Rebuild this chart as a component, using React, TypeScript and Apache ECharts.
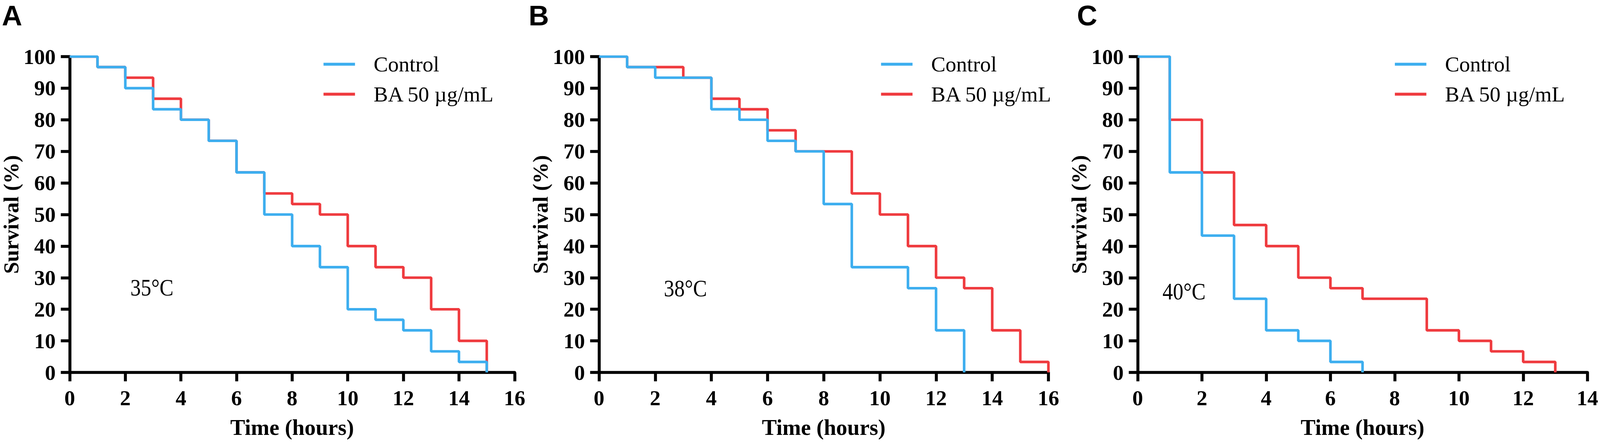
import React, { useEffect, useRef } from "react";
import * as echarts from "echarts";

// ---------- data ----------
const panelLabels = ["A", "B", "C"];
const temperatureLabels = ["35°C", "38°C", "40°C"];
const seriesNames = ["Control", "BA 50 µg/mL"];

const xMaxA = 16;
const xMaxB = 16;
const xMaxC = 14;
const xTickStep = 2;
const yTicks = [0, 10, 20, 30, 40, 50, 60, 70, 80, 90, 100];

const timeControlA = [0, 1, 2, 3, 4, 5, 6, 7, 8, 9, 10, 11, 12, 13, 14, 15];
const controlA = [100, 96.67, 90, 83.33, 80, 73.33, 63.33, 50, 40, 33.33, 20, 16.67, 13.33, 6.67, 3.33, 0];
const timeBaA = [0, 1, 2, 3, 4, 5, 6, 7, 8, 9, 10, 11, 12, 13, 14, 15];
const baA = [100, 96.67, 93.33, 86.67, 80, 73.33, 63.33, 56.67, 53.33, 50, 40, 33.33, 30, 20, 10, 0];

const timeControlB = [0, 1, 2, 3, 4, 5, 6, 7, 8, 9, 10, 11, 12, 13];
const controlB = [100, 96.67, 93.33, 93.33, 83.33, 80, 73.33, 70, 53.33, 33.33, 33.33, 26.67, 13.33, 0];
const timeBaB = [0, 1, 2, 3, 4, 5, 6, 7, 8, 9, 10, 11, 12, 13, 14, 15, 16];
const baB = [100, 96.67, 96.67, 93.33, 86.67, 83.33, 76.67, 70, 70, 56.67, 50, 40, 30, 26.67, 13.33, 3.33, 0];

const timeControlC = [0, 1, 2, 3, 4, 5, 6, 7];
const controlC = [100, 63.33, 43.33, 23.33, 13.33, 10, 3.33, 0];
const timeBaC = [0, 1, 2, 3, 4, 5, 6, 7, 8, 9, 10, 11, 12, 13];
const baC = [100, 80, 63.33, 46.67, 40, 30, 26.67, 23.33, 23.33, 13.33, 10, 6.67, 3.33, 0];

// ---------- layout / style (in reference pixels, 4319 x 1145) ----------
const REF_W = 4319;
const REF_H = 1145;
const BLUE = "#3DAEEF";
const RED = "#EF3B3F";
const SERIF = "'Liberation Serif', 'Times New Roman', serif";
const SANS = "'Liberation Sans', Arial, sans-serif";

const gridBoxes = [
  { left: 176, top: 145, width: 1213, height: 809 },
  { left: 1617, top: 145, width: 1213, height: 809 },
  { left: 3071, top: 145, width: 1214, height: 809 },
];
const legendPos = [
  { left: 868, top: 131 },
  { left: 2373, top: 131 },
  { left: 3760, top: 131 },
];
const panelLabelPos = [
  { x: 5, y: 4 },
  { x: 1427, y: 4 },
  { x: 2907, y: 4 },
];
const tempLabelPos = [
  { x: 352, y: 736 },
  { x: 1792, y: 738 },
  { x: 3138, y: 746 },
];

const zip = (t: number[], v: number[]) => t.map((x, i) => [x, v[i]]);

function buildOption(sx: number, sy: number) {
  const s = Math.min(sx, sy);
  const X = (v: number) => v * sx;
  const Y = (v: number) => v * sy;
  const S = (v: number) => v * s;

  const xMaxes = [xMaxA, xMaxB, xMaxC];
  const panels = [
    { control: zip(timeControlA, controlA), ba: zip(timeBaA, baA) },
    { control: zip(timeControlB, controlB), ba: zip(timeBaB, baB) },
    { control: zip(timeControlC, controlC), ba: zip(timeBaC, baC) },
  ];

  const grid = gridBoxes.map((g) => ({
    left: X(g.left),
    top: Y(g.top),
    width: X(g.width),
    height: Y(g.height),
  }));

  const axisLine = { show: true, onZero: false, lineStyle: { color: "#000", width: S(8) } };
  const axisTick = { show: true, length: S(24), lineStyle: { color: "#000", width: S(8) } };

  const xAxis = xMaxes.map((mx, i) => ({
    type: "value",
    gridIndex: i,
    min: 0,
    max: mx,
    interval: xTickStep,
    axisLine,
    axisTick,
    splitLine: { show: false },
    axisLabel: {
      color: "#000",
      fontFamily: SERIF,
      fontWeight: "bold",
      fontSize: S(58),
      margin: S(40),
    },
    name: "Time (hours)",
    nameLocation: "middle",
    nameGap: S(118),
    nameTextStyle: { color: "#000", fontFamily: SERIF, fontWeight: "bold", fontSize: S(60) },
  }));

  const yAxis = gridBoxes.map((_, i) => ({
    type: "value",
    gridIndex: i,
    min: yTicks[0],
    max: yTicks[yTicks.length - 1],
    interval: yTicks[1] - yTicks[0],
    axisLine,
    axisTick,
    splitLine: { show: false },
    axisLabel: {
      color: "#000",
      fontFamily: SERIF,
      fontWeight: "bold",
      fontSize: S(58),
      margin: S(38),
    },
    name: "Survival (%)",
    nameLocation: "middle",
    nameGap: S(112),
    nameTextStyle: {
      color: "#000",
      fontFamily: SERIF,
      fontWeight: "bold",
      fontSize: S(58),
      lineHeight: S(50),
    },
  }));

  const series: any[] = [];
  panels.forEach((p, i) => {
    series.push({
      type: "line",
      name: seriesNames[1],
      xAxisIndex: i,
      yAxisIndex: i,
      step: "end",
      data: p.ba,
      symbol: "none",
      showSymbol: false,
      lineStyle: { color: RED, width: S(7) },
      itemStyle: { color: RED },
      z: 2,
    });
    series.push({
      type: "line",
      name: seriesNames[0],
      xAxisIndex: i,
      yAxisIndex: i,
      step: "end",
      data: p.control,
      symbol: "none",
      showSymbol: false,
      lineStyle: { color: BLUE, width: S(7) },
      itemStyle: { color: BLUE },
      z: 3,
    });
  });

  const legend = legendPos.map((pos) => ({
    left: X(pos.left),
    top: Y(pos.top),
    orient: "vertical",
    icon: "rect",
    itemWidth: S(85),
    itemHeight: S(8),
    itemGap: S(21),
    selectedMode: false,
    data: [seriesNames[0], seriesNames[1]],
    textStyle: {
      color: "#000",
      fontFamily: SERIF,
      fontSize: S(58),
      lineHeight: S(60),
      padding: [0, 0, 0, S(45)],
    },
  }));

  const graphic: any[] = [];
  panelLabels.forEach((lab, i) => {
    graphic.push({
      type: "text",
      x: X(panelLabelPos[i].x),
      y: Y(panelLabelPos[i].y),
      style: {
        text: lab,
        fontFamily: SANS,
        fontWeight: "bold",
        fontSize: S(76),
        fill: "#000",
        verticalAlign: "top",
        align: "left",
      },
    });
  });
  temperatureLabels.forEach((lab, i) => {
    graphic.push({
      type: "text",
      x: X(tempLabelPos[i].x),
      y: Y(tempLabelPos[i].y),
      scaleX: 0.88,
      style: {
        text: lab,
        fontFamily: SERIF,
        fontSize: S(64),
        fill: "#000",
        verticalAlign: "middle",
        align: "left",
      },
    });
  });

  return {
    animation: false,
    backgroundColor: "#fff",
    grid,
    xAxis,
    yAxis,
    series,
    legend,
    graphic,
  };
}

export default function App() {
  const ref = useRef<HTMLDivElement>(null);
  useEffect(() => {
    document.body.style.margin = "0";
    document.body.style.overflow = "hidden";
    const el = ref.current as HTMLDivElement;
    const w = el.clientWidth || REF_W;
    const h = el.clientHeight || REF_H;
    const chart = echarts.init(el, null, { renderer: "svg", width: w, height: h });
    chart.setOption(buildOption(w / REF_W, h / REF_H) as any);
    return () => chart.dispose();
  }, []);
  return (
    <div
      ref={ref}
      style={{ width: "100vw", height: "100vh", overflow: "hidden", background: "#fff" }}
    />
  );
}
